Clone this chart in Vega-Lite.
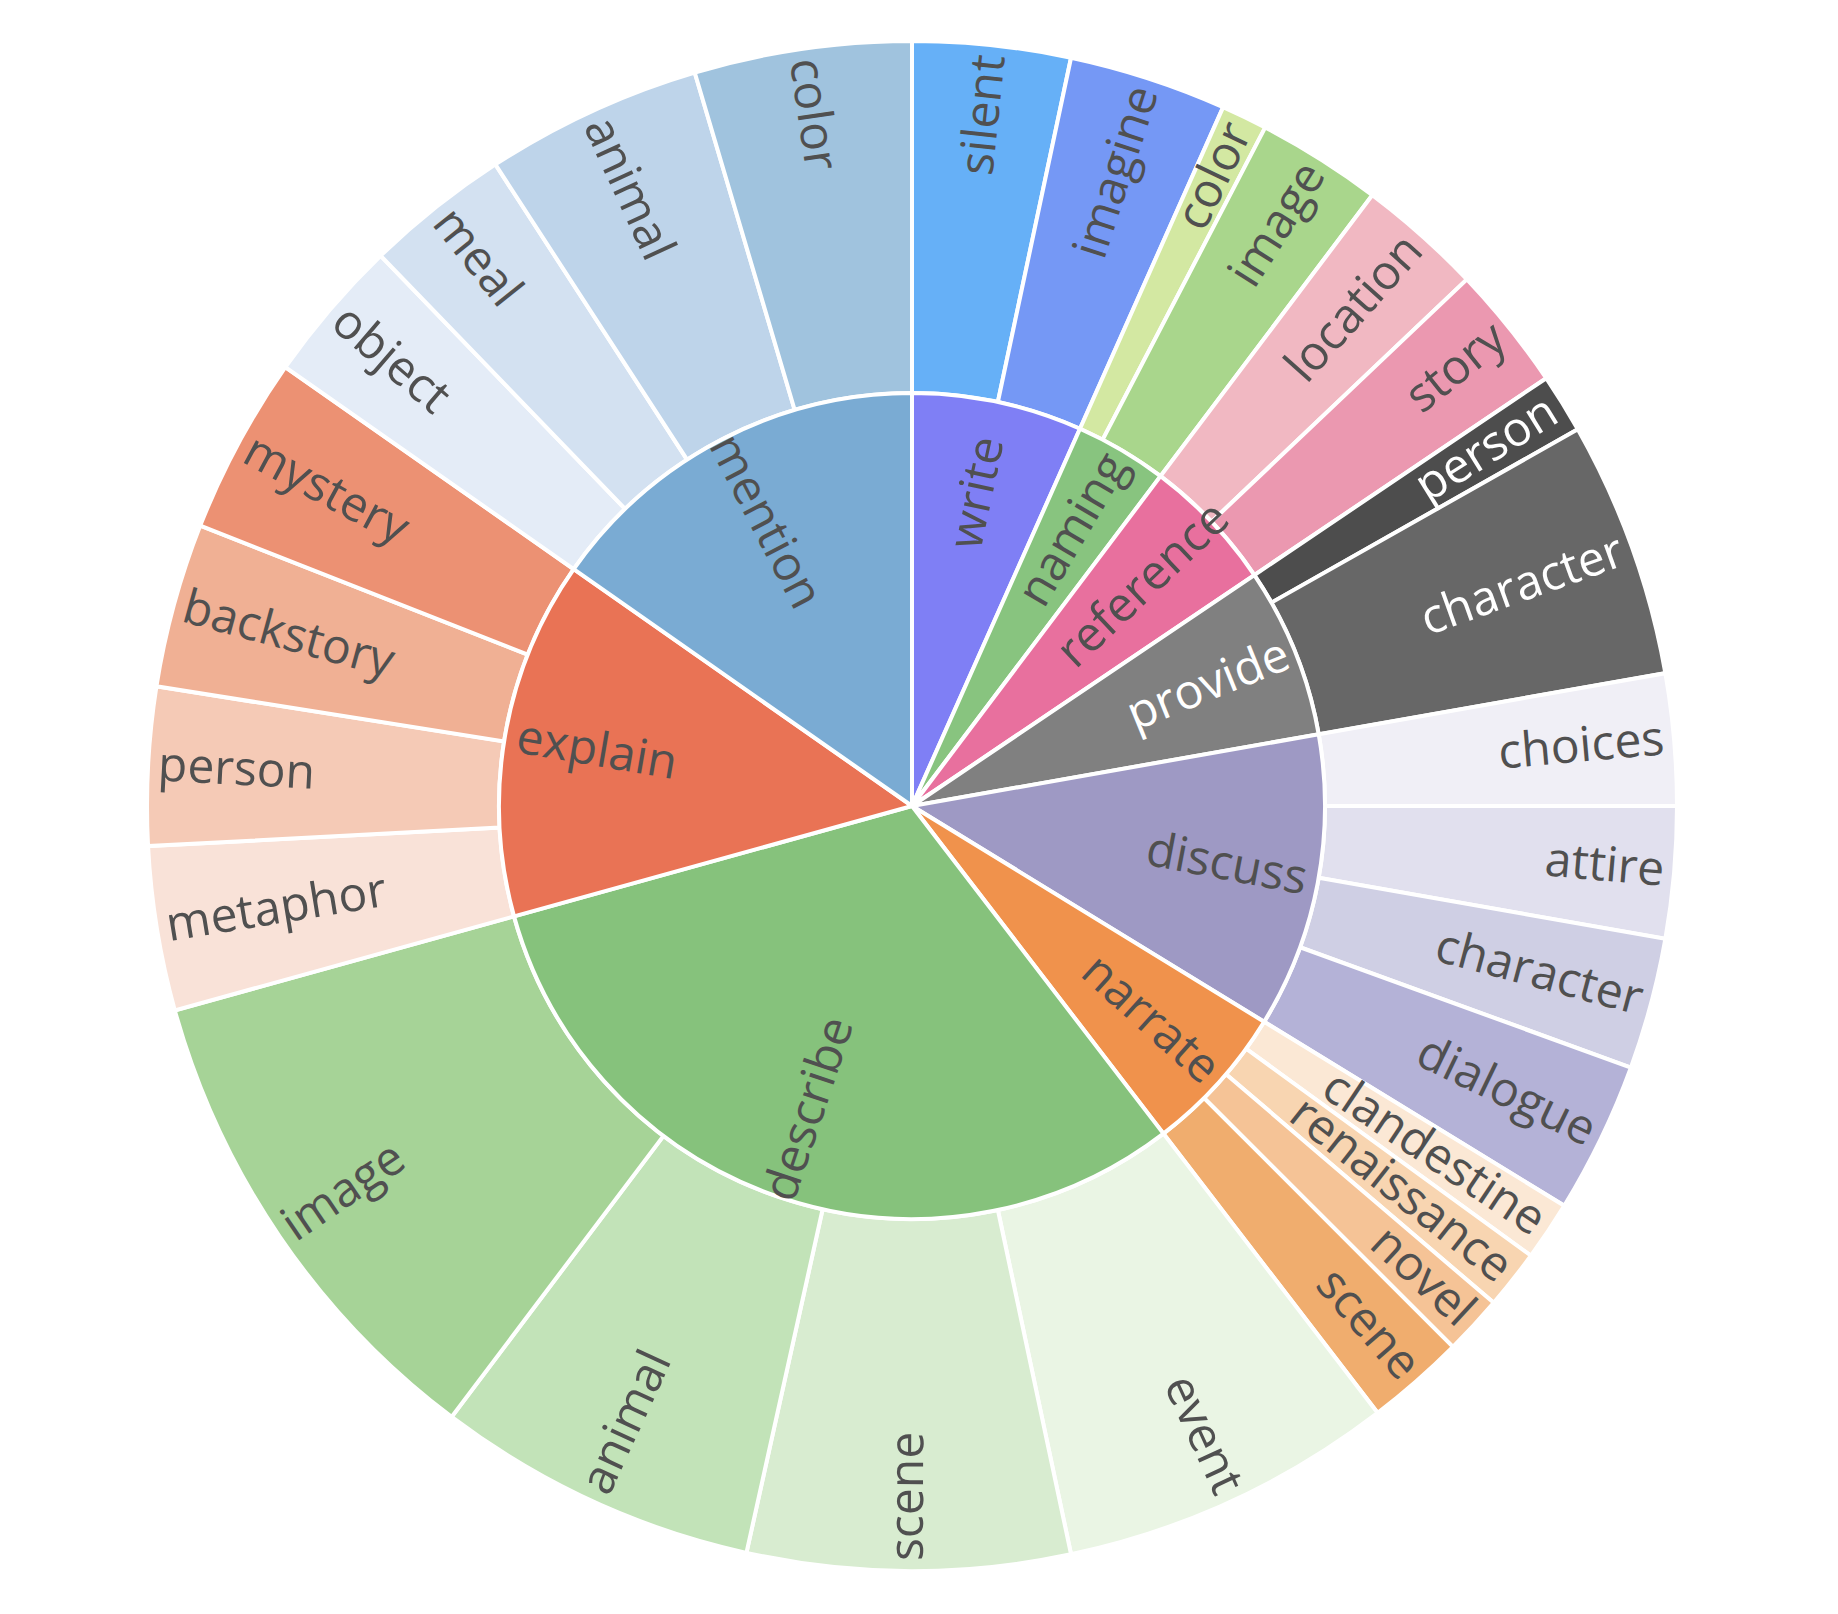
{
  "$schema": "https://vega.github.io/schema/vega-lite/v6.json",
  "width": 1530,
  "height": 1530,
  "autosize": {"type": "none"},
  "padding": {"left": 147, "top": 41, "right": 161, "bottom": 43},
  "background": "white",
  "config": {"view": {"stroke": null}},
  "data": {
    "values": [
      {"parent": "write", "child": "silent", "value": 12},
      {"parent": "write", "child": "imagine", "value": 12},
      {"parent": "naming", "child": "color", "value": 3.5},
      {"parent": "naming", "child": "image", "value": 9.5},
      {"parent": "reference", "child": "location", "value": 9.5},
      {"parent": "reference", "child": "story", "value": 9.5},
      {"parent": "provide", "child": "person", "value": 4.5},
      {"parent": "provide", "child": "character", "value": 19.5},
      {"parent": "discuss", "child": "choices", "value": 10},
      {"parent": "discuss", "child": "attire", "value": 10},
      {"parent": "discuss", "child": "character", "value": 10},
      {"parent": "discuss", "child": "dialogue", "value": 11.5},
      {"parent": "narrate", "child": "clandestine", "value": 4.5},
      {"parent": "narrate", "child": "renaissance", "value": 4.5},
      {"parent": "narrate", "child": "novel", "value": 4.5},
      {"parent": "narrate", "child": "scene", "value": 7.5},
      {"parent": "describe", "child": "event", "value": 25.5},
      {"parent": "describe", "child": "scene", "value": 24.5},
      {"parent": "describe", "child": "animal", "value": 24.5},
      {"parent": "describe", "child": "image", "value": 37.5},
      {"parent": "explain", "child": "metaphor", "value": 12.5},
      {"parent": "explain", "child": "person", "value": 12},
      {"parent": "explain", "child": "backstory", "value": 12.5},
      {"parent": "explain", "child": "mystery", "value": 13.5},
      {"parent": "mention", "child": "object", "value": 11},
      {"parent": "mention", "child": "meal", "value": 11},
      {"parent": "mention", "child": "animal", "value": 16.5},
      {"parent": "mention", "child": "color", "value": 16.5}
    ]
  },
  "transform": [
    {"window": [{"op": "row_number", "as": "i"}]}
  ],
  "layer": [
    {
      "transform": [
        {"window": [{"op": "sum", "field": "value", "as": "end"}], "sort": [{"field": "i"}], "frame": [null, 0]},
        {"calculate": "datum.end - datum.value", "as": "start"},
        {"calculate": "datum.parent + '|' + datum.child", "as": "key"}
      ],
      "mark": {"type": "arc", "radius": 765, "radius2": 413, "stroke": "white", "strokeWidth": 4},
      "encoding": {
        "theta": {"field": "start", "type": "quantitative", "stack": null, "scale": {"domain": [0, 360]}},
        "theta2": {"field": "end"},
        "color": {
          "field": "key", "type": "nominal", "legend": null,
          "scale": {
            "domain": ["write", "naming", "reference", "provide", "discuss", "narrate", "describe", "explain", "mention",
              "write|silent", "write|imagine", "naming|color", "naming|image", "reference|location", "reference|story",
              "provide|person", "provide|character", "discuss|choices", "discuss|attire", "discuss|character", "discuss|dialogue",
              "narrate|clandestine", "narrate|renaissance", "narrate|novel", "narrate|scene",
              "describe|event", "describe|scene", "describe|animal", "describe|image",
              "explain|metaphor", "explain|person", "explain|backstory", "explain|mystery",
              "mention|object", "mention|meal", "mention|animal", "mention|color"],
            "range": ["#7f7ff5", "#88c47f", "#e8709e", "#808080", "#9e99c4", "#f0924c", "#86c27c", "#e97355", "#7aabd3",
              "#66b0f7", "#7598f5", "#d3e8a2", "#a9d68c", "#f1b8c2", "#eb98b0",
              "#4d4d4d", "#676767", "#f0eff6", "#e1e0ee", "#cfcfe4", "#b4b2d7",
              "#fbe8d5", "#f8d5b1", "#f5c396", "#f0ad6e",
              "#eaf5e4", "#d8ecd0", "#c2e3b8", "#a6d397",
              "#f9e2d8", "#f5cab6", "#f0b094", "#ec9173",
              "#e4ecf7", "#d3e1f1", "#bed4ea", "#a0c3de"]
          }
        }
      }
    },
    {
      "transform": [
        {"aggregate": [{"op": "sum", "field": "value", "as": "value"}, {"op": "min", "field": "i", "as": "i"}], "groupby": ["parent"]},
        {"window": [{"op": "sum", "field": "value", "as": "end"}], "sort": [{"field": "i"}], "frame": [null, 0]},
        {"calculate": "datum.end - datum.value", "as": "start"},
        {"calculate": "datum.parent", "as": "key"}
      ],
      "mark": {"type": "arc", "radius": 413, "radius2": 0, "stroke": "white", "strokeWidth": 4},
      "encoding": {
        "theta": {"field": "start", "type": "quantitative", "stack": null, "scale": {"domain": [0, 360]}},
        "theta2": {"field": "end"},
        "color": {"field": "key", "type": "nominal", "legend": null}
      }
    },
    {
      "transform": [
        {"aggregate": [{"op": "sum", "field": "value", "as": "value"}, {"op": "min", "field": "i", "as": "i"}], "groupby": ["parent"]},
        {"window": [{"op": "sum", "field": "value", "as": "end"}], "sort": [{"field": "i"}], "frame": [null, 0]},
        {"calculate": "datum.end - datum.value / 2", "as": "mid"},
        {"calculate": "datum.mid < 180 ? datum.mid - 90 : datum.mid - 270", "as": "rot"}
      ],
      "mark": {"type": "text", "radius": 320, "font": "Open Sans", "fontSize": 48, "align": "center", "baseline": "middle"},
      "encoding": {
        "theta": {"field": "mid", "type": "quantitative", "stack": null, "scale": {"domain": [0, 360]}},
        "angle": {"field": "rot", "type": "quantitative", "scale": null},
        "text": {"field": "parent"},
        "color": {"condition": {"test": "datum.parent === 'provide'", "value": "white"}, "value": "#505050"}
      }
    },
    {
      "transform": [
        {"window": [{"op": "sum", "field": "value", "as": "end"}], "sort": [{"field": "i"}], "frame": [null, 0]},
        {"calculate": "datum.end - datum.value / 2", "as": "mid"},
        {"calculate": "datum.mid - 90", "as": "rot"},
        {"filter": "datum.mid < 180"}
      ],
      "mark": {"type": "text", "radius": 755, "font": "Open Sans", "fontSize": 48, "align": "right", "baseline": "middle"},
      "encoding": {
        "theta": {"field": "mid", "type": "quantitative", "stack": null, "scale": {"domain": [0, 360]}},
        "angle": {"field": "rot", "type": "quantitative", "scale": null},
        "text": {"field": "child"},
        "color": {"condition": {"test": "datum.parent === 'provide'", "value": "white"}, "value": "#505050"}
      }
    },
    {
      "transform": [
        {"window": [{"op": "sum", "field": "value", "as": "end"}], "sort": [{"field": "i"}], "frame": [null, 0]},
        {"calculate": "datum.end - datum.value / 2", "as": "mid"},
        {"calculate": "datum.mid - 270", "as": "rot"},
        {"filter": "datum.mid >= 180"}
      ],
      "mark": {"type": "text", "radius": 755, "font": "Open Sans", "fontSize": 48, "align": "left", "baseline": "middle"},
      "encoding": {
        "theta": {"field": "mid", "type": "quantitative", "stack": null, "scale": {"domain": [0, 360]}},
        "angle": {"field": "rot", "type": "quantitative", "scale": null},
        "text": {"field": "child"},
        "color": {"value": "#505050"}
      }
    }
  ]
}
